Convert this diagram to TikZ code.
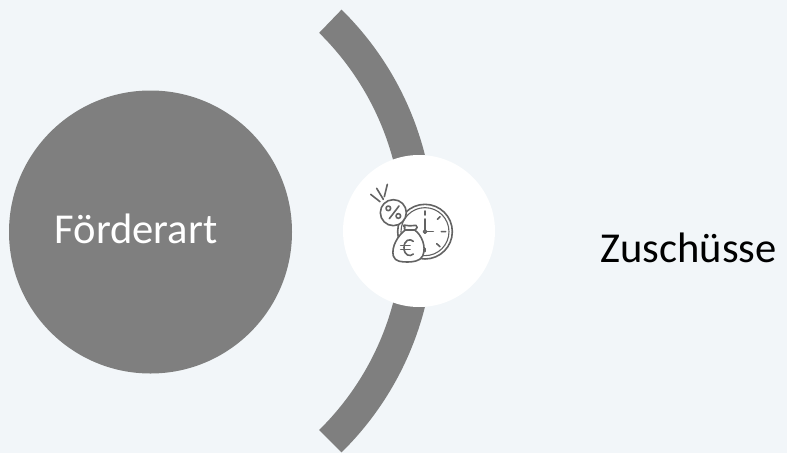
\documentclass[tikz,border=0pt]{standalone}
\usepackage{fontspec}
\setmainfont{Carlito}
\definecolor{bgc}{HTML}{F2F6F9}
\definecolor{band}{HTML}{7F7F7F}
\definecolor{ink}{HTML}{636363}
\tikzset{
  icon/.style={draw=ink,line width=1.6pt,line cap=round,line join=round},
  disc/.style={circle,inner sep=0pt,minimum size=#1},
  bigtext/.style={font=\fontsize{42.6}{48}\selectfont,anchor=base},
}
\begin{document}
\begin{tikzpicture}[x=1pt,y=-1pt]
\useasboundingbox (0,0) rectangle (787,453);
\fill[bgc] (0,0) rectangle (787,453);
% curved band
\fill[band] (124,231) ++(-45.5:310.4) arc[start angle=-45.5,end angle=45.5,radius=310.4]
  -- ++(-22.4,-22.4) arc[start angle=45.5,end angle=-45.5,radius=278.4] -- cycle;
\node[disc=283pt,fill=band] (src) at (150.5,232) {};
\node[bigtext,text=white] (srclabel) at (136,243) {Förderart};
\node[disc=152pt,fill=white] (hub) at (419,231) {};
\node[bigtext,text=black] (target) at (688.5,262) {Zuschüsse};
% icon (drawn in 3x zoomed coordinates)
\begin{scope}[shift={(330,150)},x=0.3333pt,y=-0.3333pt]
  % clock
  \draw[icon] (285,245) circle[radius=82];
  \draw[icon,line width=1.1pt] (285,245) circle[radius=72];
  \draw[icon] (285,183)--(285,195) (347,245)--(334,245) (330,200)--(322,208) (330,290)--(320,281) (285,305)--(285,295);
  \draw[icon] (285,207)--(285,240) (290,245)--(310,245);
  \draw[icon] (285,245) circle[radius=5];
  % percent disc
  \draw[icon,fill=white] (190,188) circle[radius=39];
  \draw[icon] (207,168)--(178,206);
  \draw[icon] (175,175) circle[radius=7] (205,198) circle[radius=7];
  \draw[icon] (122,133)--(150,155) (140,115)--(160,148) (172,103)--(163,140);
  % money bag
  \draw[icon,fill=white] (225,232) .. controls (218,228) and (220,224) .. (228,226)
     .. controls (240,229) and (250,226) .. (258,226) .. controls (264,228) and (262,236) .. (254,240)
     .. controls (275,255) and (290,290) .. (278,318) .. controls (270,335) and (245,336) .. (232,336)
     .. controls (215,336) and (195,335) .. (190,318) .. controls (183,290) and (205,255) .. (226,240)
     .. controls (222,237) and (222,234) .. (225,232) -- cycle;
  \draw[icon] (226,240)--(254,240);
  \draw[icon] (250,274) .. controls (240,264) and (222,270) .. (222,293) .. controls (222,316) and (240,322) .. (250,312);
  \draw[icon] (212,287)--(240,287) (212,298)--(240,298);
\end{scope}
\end{tikzpicture}
\end{document}
